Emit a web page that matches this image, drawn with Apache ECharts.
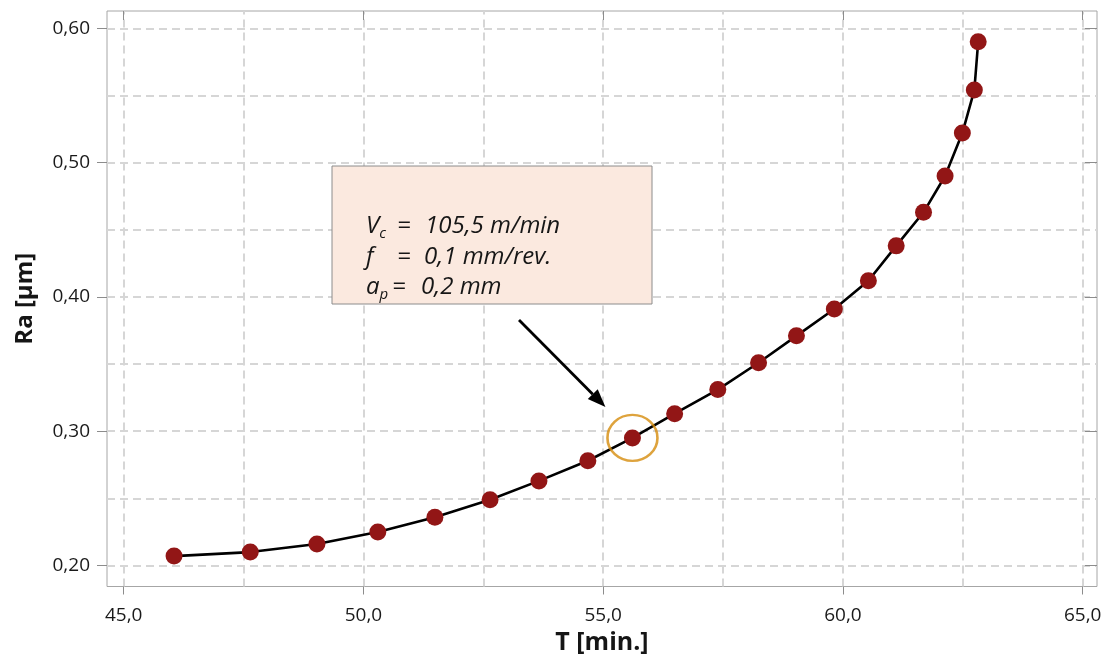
<!DOCTYPE html>
<html>
<head>
<meta charset="utf-8">
<script src="https://cdn.jsdelivr.net/npm/echarts@6/dist/echarts.min.js"></script>
<style>
  html, body { margin: 0; padding: 0; background: #fff; }
  #chart { width: 1109px; height: 657px; }
</style>
</head>
<body>
<div id="chart"></div>
<script>
// Surface roughness Ra versus tool life T
const timeMin = [46.05, 47.64, 49.03, 50.30, 51.49, 52.64, 53.66, 54.68, 55.61, 56.49, 57.39,
                 58.24, 59.03, 59.82, 60.53, 61.11, 61.68, 62.13, 62.49, 62.74, 62.82];
const raUm    = [0.207, 0.210, 0.216, 0.225, 0.236, 0.249, 0.263, 0.278, 0.295, 0.313, 0.331,
                 0.351, 0.371, 0.391, 0.412, 0.438, 0.463, 0.490, 0.522, 0.554, 0.590];

// Axis ticks and dashed grid positions
const xTicks = [45, 50, 55, 60, 65];
const yTicks = [0.2, 0.3, 0.4, 0.5, 0.6];
const xGrid = [45, 47.5, 50, 52.5, 55, 57.5, 60, 62.5, 65];
const yGrid = [0.20, 0.25, 0.30, 0.35, 0.40, 0.45, 0.50, 0.55, 0.60];

// Highlighted operating point
const markedIndex = 8;

const FONT = '"Open Sans", "DejaVu Sans", sans-serif';
const xRange = { min: 44.652, max: 65.298 };
const yRange = { min: 0.18437, max: 0.61288 };

const chart = echarts.init(document.getElementById('chart'), null, { renderer: 'canvas' });

function baseX(extra) {
  return Object.assign({
    type: 'value', min: xRange.min, max: xRange.max,
    axisLine: { show: false }, splitLine: { show: false }
  }, extra);
}
function baseY(extra) {
  return Object.assign({
    type: 'value', min: yRange.min, max: yRange.max,
    axisLine: { show: false }, splitLine: { show: false }
  }, extra);
}

const gridLineStyle = { color: '#d6d6d6', width: 2, type: [8, 5] };

const option = {
  animation: false,
  grid: { left: 107, top: 11, width: 990, height: 575.5, show: true,
          outerBoundsMode: 'none', containLabel: false,
          borderColor: '#a6a6a6', borderWidth: 1, backgroundColor: 'transparent' },
  xAxis: [
    baseX({
      name: 'T [min.]', nameLocation: 'middle', nameGap: 44,
      nameTextStyle: { fontFamily: FONT, fontSize: 25, fontWeight: 'bold', color: '#151515' },
      axisTick: { show: true, inside: false, length: 8, customValues: xTicks,
                  lineStyle: { color: '#8c8c8c', width: 1 } },
      axisLabel: { customValues: xTicks, margin: 20, fontFamily: FONT, fontSize: 19, color: '#1a1a1a',
                   formatter: v => v.toFixed(1).replace('.', ',') }
    }),
    baseX({
      axisTick: { show: true, inside: true, length: 9, customValues: xTicks,
                  lineStyle: { color: '#8c8c8c', width: 1 } },
      axisLabel: { show: false }
    })
  ],
  yAxis: [
    baseY({
      name: 'Ra [µm]', nameLocation: 'middle', nameGap: 70,
      nameTextStyle: { fontFamily: FONT, fontSize: 24, fontWeight: 'bold', color: '#151515' },
      axisTick: { show: true, inside: false, length: 10, customValues: yTicks,
                  lineStyle: { color: '#8c8c8c', width: 1 } },
      axisLabel: { customValues: yTicks, margin: 17, fontFamily: FONT, fontSize: 19, color: '#1a1a1a',
                   formatter: v => v.toFixed(2).replace('.', ',') }
    }),
    baseY({
      axisTick: { show: true, inside: true, length: 12, customValues: yTicks,
                  lineStyle: { color: '#8c8c8c', width: 1 } },
      axisLabel: { show: false }
    })
  ],
  series: [
    {
      // dashed background grid
      type: 'line', data: [], z: 0, silent: true,
      markLine: {
        silent: true, symbol: 'none', animation: false, z: 0,
        label: { show: false },
        lineStyle: gridLineStyle,
        emphasis: { disabled: true },
        data: xGrid.map(v => ({ xAxis: v })).concat(yGrid.map(v => ({ yAxis: v })))
      }
    },
    {
      type: 'line', z: 3,
      data: timeMin.map((t, i) => [t, raUm[i]]),
      smooth: false,
      symbol: 'circle', symbolSize: 17,
      lineStyle: { color: '#000', width: 2.6, join: 'round' },
      itemStyle: { color: '#921616' }
    },
    {
      type: 'scatter', z: 4, silent: true,
      data: [[timeMin[markedIndex], raUm[markedIndex]]],
      symbol: 'circle', symbolSize: [50, 46],
      itemStyle: { color: 'rgba(0,0,0,0)', borderColor: '#d68c0c', borderWidth: 2.5 }
    }
  ],
  graphic: []
};

chart.setOption(option);

// Annotation box with cutting parameters and an arrow pointing at the marked point
const target = chart.convertToPixel({ gridIndex: 0 }, [timeMin[markedIndex], raUm[markedIndex]]);
const tip = [target[0] - 27, target[1] - 31];
const tail = [519, 320];
const dx = tip[0] - tail[0], dy = tip[1] - tail[1];
const len = Math.sqrt(dx * dx + dy * dy);
const ux = dx / len, uy = dy / len;
const headLen = 18, headHalf = 7;
const bx = tip[0] - ux * headLen, by = tip[1] - uy * headLen;

const textStyleBase = { fontFamily: FONT, fontSize: 24, fontStyle: 'italic', fill: '#161616' };
const richSub = {
  m: { fontFamily: FONT, fontSize: 24, fontStyle: 'italic', color: '#161616' },
  s: { fontFamily: FONT, fontSize: 15, fontStyle: 'italic', color: '#161616', verticalAlign: 'bottom', padding: [0, 0, -3, 0] }
};

function lineText(x, y, text, rich) {
  return { type: 'text', x: x, y: y, z: 20,
           style: Object.assign({}, textStyleBase, { text: text, textVerticalAlign: 'alphabetic', rich: rich || undefined }) };
}

chart.setOption({
  graphic: [
    { type: 'rect', z: 10, shape: { x: 332, y: 166, width: 320, height: 138 },
      style: { fill: '#fbe9df', stroke: '#8c8c8c', lineWidth: 1 } },
    lineText(366, 214, '{m|V}{s|c}', richSub),
    lineText(397, 214, '='),
    lineText(425, 214, '105,5 m/min'),
    lineText(366, 245, 'f'),
    lineText(397, 245, '='),
    lineText(424, 245, '0,1 mm/rev.'),
    lineText(366, 275, '{m|a}{s|p}', richSub),
    lineText(392, 275, '='),
    lineText(421, 275, '0,2 mm'),
    { type: 'line', z: 10, shape: { x1: tail[0], y1: tail[1], x2: bx, y2: by },
      style: { stroke: '#000', lineWidth: 2.8 } },
    { type: 'polygon', z: 10,
      shape: { points: [tip, [bx - uy * headHalf, by + ux * headHalf], [bx + uy * headHalf, by - ux * headHalf]] },
      style: { fill: '#000' } }
  ]
});
</script>
</body>
</html>
